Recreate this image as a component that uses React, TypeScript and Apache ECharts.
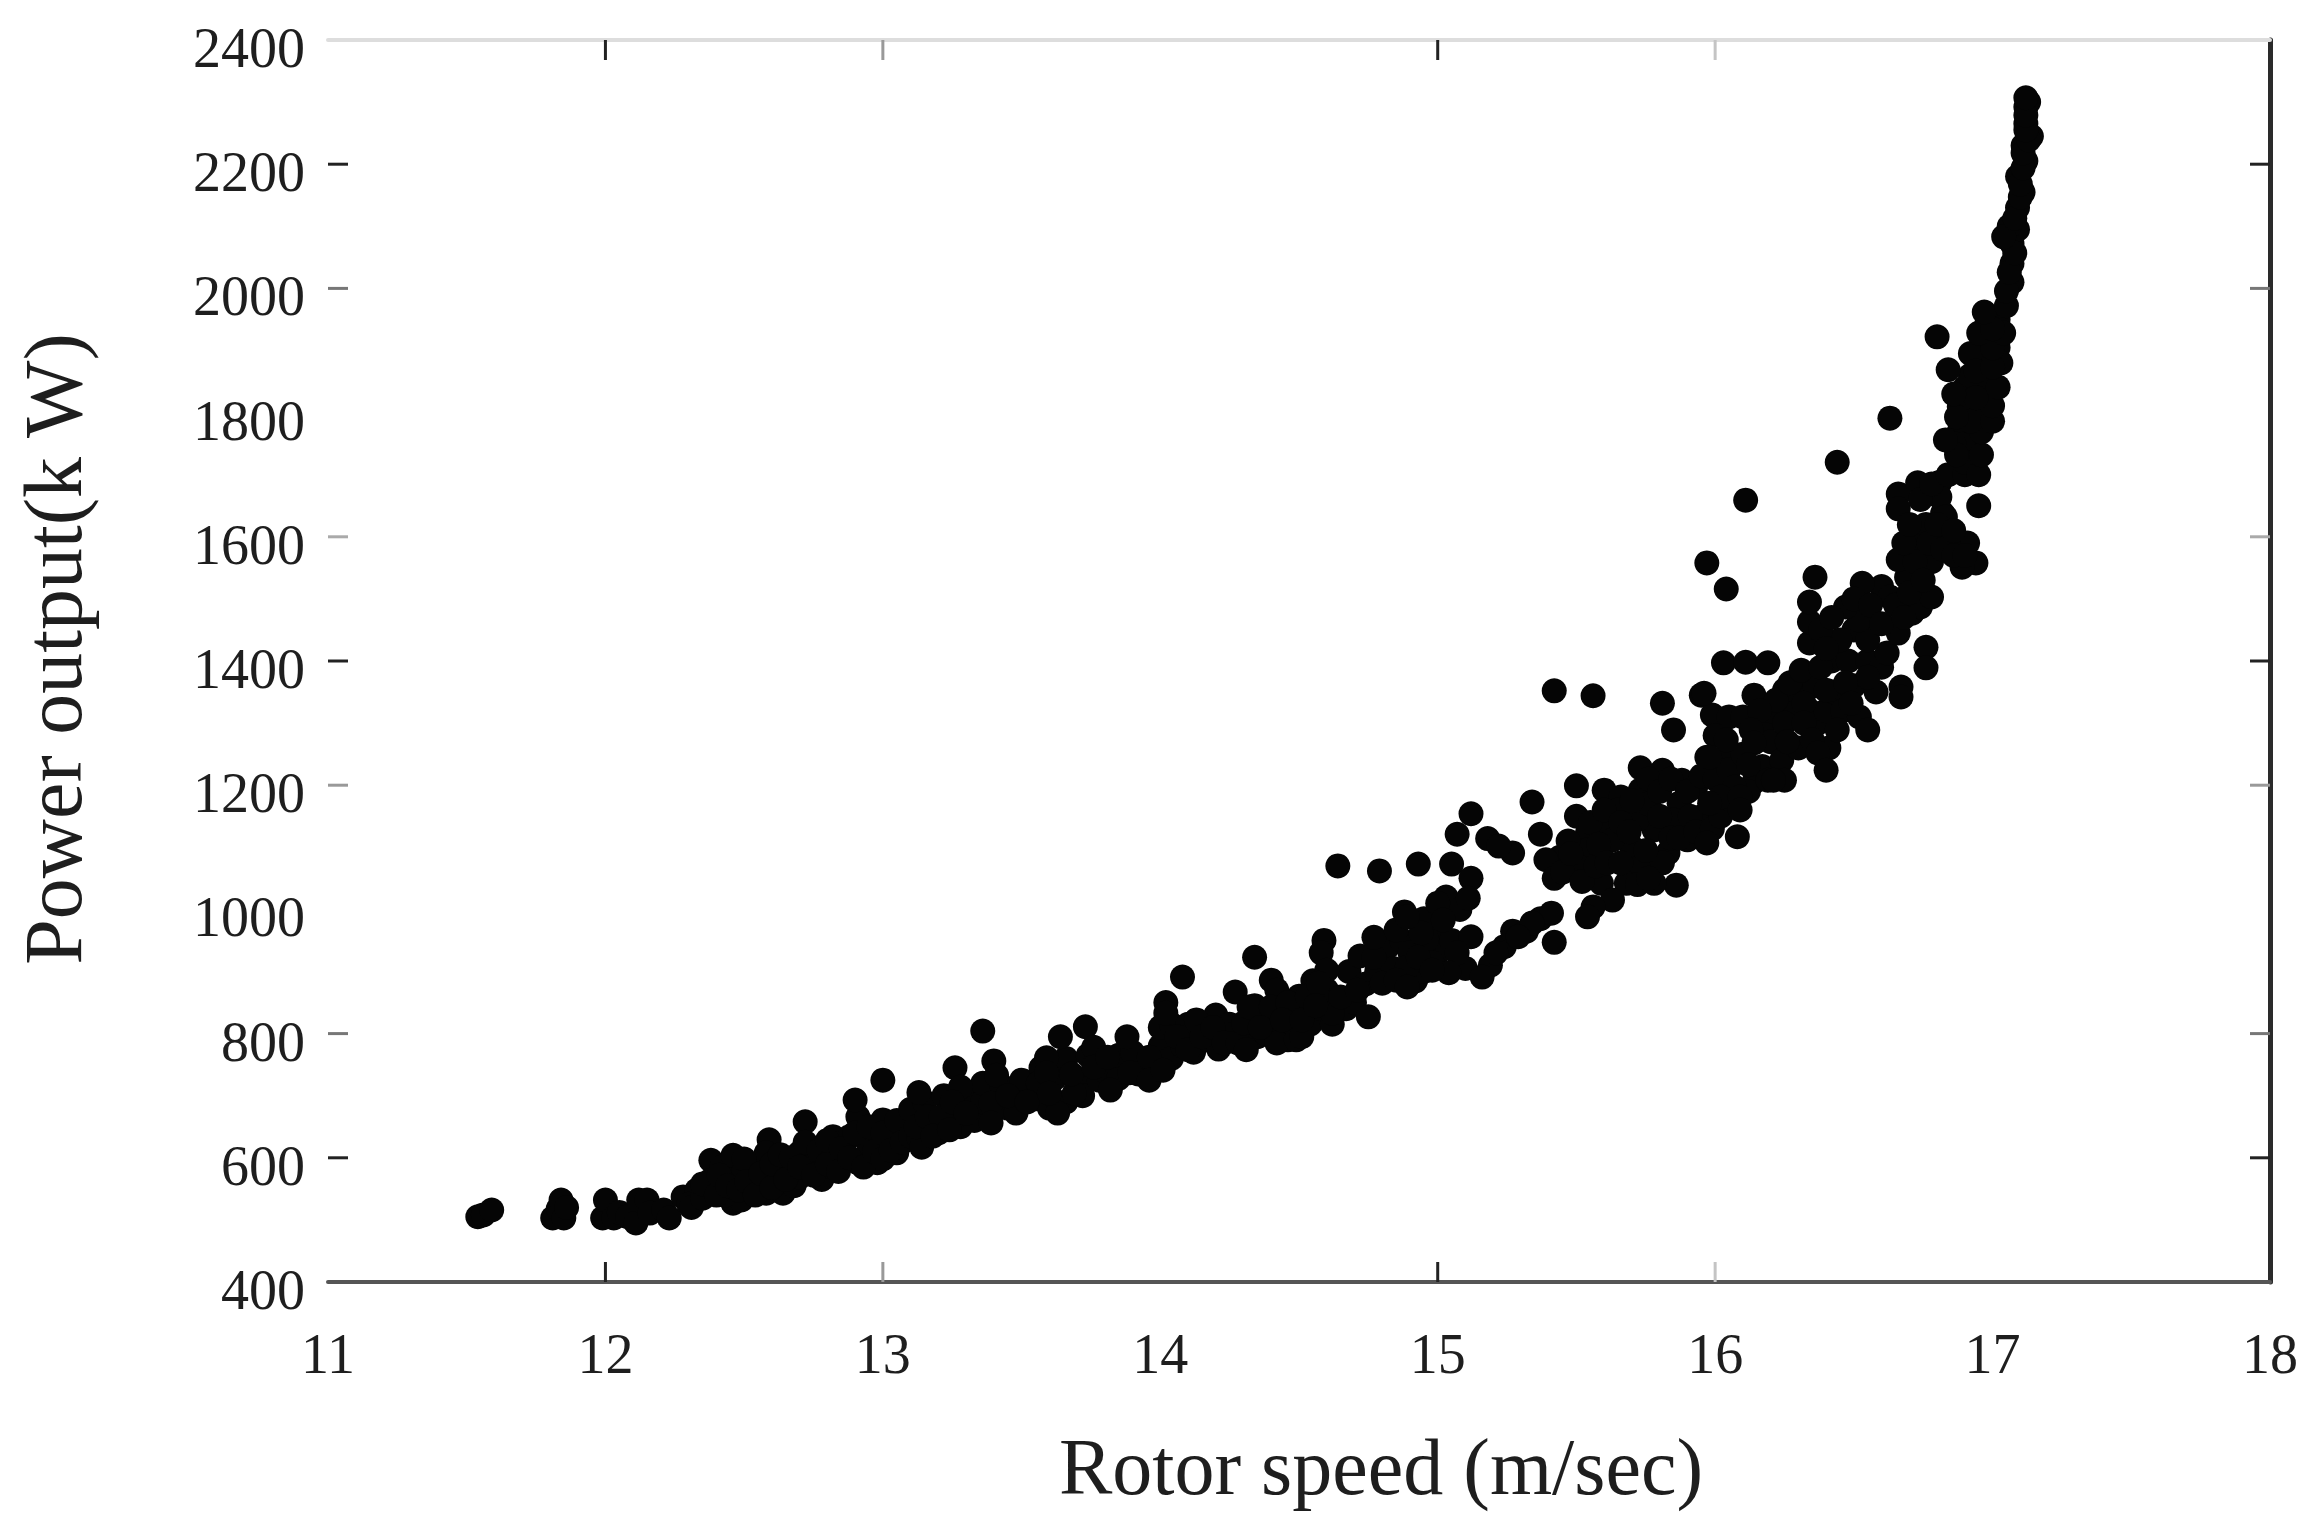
import React, { useEffect, useRef } from "react";
import * as echarts from "echarts";

const xLabels = [11, 12, 13, 14, 15, 16, 17, 18];
const yLabels = [400, 600, 800, 1000, 1200, 1400, 1600, 1800, 2000, 2200, 2400];
const xTitle = "Rotor speed (m/sec)";
const yTitle = "Power output(k W)";

const xTicks: [number, string][] = [[12, "#222222"], [13, "#999999"], [15, "#222222"], [16, "#c4c4c4"]];
const yTicks: [number, string][] = [[2200, "#222222"], [2000, "#777777"], [1600, "#aaaaaa"], [1400, "#222222"], [1200, "#999999"], [800, "#777777"], [600, "#222222"]];

const lowEnd: [number, number][] = [
  [11.54, 505], [11.56, 508], [11.59, 516], [11.81, 503], [11.83, 518], [11.84, 532], [11.85, 503], [11.86, 520],
  [11.99, 503], [12.0, 532], [12.03, 503], [12.05, 512], [12.08, 505], [12.11, 495], [12.12, 532], [12.15, 532], [12.16, 511],
  [12.21, 516], [12.23, 503], [12.28, 537], [12.33, 548], [12.3, 525], [12.38, 596], [12.38, 564], [12.42, 585],
  [12.46, 604], [12.46, 527], [12.49, 532], [12.43, 540], [12.46, 565], [12.5, 580], [12.53, 560], [12.55, 585],
  [12.59, 629], [12.58, 608], [12.58, 543], [12.64, 543], [12.62, 570], [12.66, 590], [12.68, 555], [12.72, 658],
  [12.7, 608], [12.7, 569], [12.76, 608], [12.74, 585], [12.78, 565], [12.82, 634], [12.82, 585], [12.86, 610], [12.88, 634],
  [12.91, 666], [12.91, 592], [12.95, 620], [12.98, 592], [13.0, 725], [13.0, 661], [13.02, 630], [13.05, 608], [13.09, 640],
];

const lowEndFill: [number, number][] = [
  [12.31, 520], [12.35, 535], [12.35, 558], [12.4, 540], [12.41, 572], [12.44, 555], [12.48, 548], [12.5, 598], [12.51, 562],
  [12.54, 540], [12.56, 575], [12.6, 552], [12.6, 590], [12.63, 605], [12.65, 565], [12.67, 600], [12.7, 585], [12.72, 625],
  [12.75, 572], [12.77, 612], [12.8, 590], [12.8, 628], [12.84, 578], [12.85, 615], [12.88, 600], [12.9, 640], [12.93, 585],
  [12.95, 650], [12.97, 610], [13.0, 598], [13.0, 640], [13.03, 612], [13.05, 660], [13.07, 625], [13.1, 635], [13.1, 678],
  [13.13, 632], [13.15, 690], [13.18, 650], [13.2, 640], [13.22, 700], [13.25, 665], [13.28, 650], [13.28, 680], [13.32, 705],
  [13.33, 660], [13.36, 690], [13.36, 720], [13.4, 678], [13.43, 715], [13.45, 680], [13.5, 725], [13.5, 688], [13.55, 695],
  [13.57, 745], [13.6, 680], [13.62, 728], [13.66, 690], [13.66, 760], [13.7, 720], [13.72, 700], [13.74, 765], [13.78, 725],
  [13.8, 740], [13.85, 728], [13.85, 765], [13.9, 770], [13.92, 735], [13.98, 745], [14.0, 780], [14.0, 810], [14.04, 760],
  [14.04, 815], [14.08, 780], [14.1, 815], [14.12, 770], [14.17, 790], [14.2, 830], [14.21, 775], [14.25, 815], [14.27, 800],
  [14.3, 790], [14.34, 845], [14.35, 795], [14.38, 830], [14.38, 800], [14.42, 810], [14.46, 790], [14.46, 830], [14.5, 860],
  [14.48, 810], [14.54, 815], [14.55, 885], [14.58, 840], [14.6, 870], [14.62, 815], [14.67, 840], [14.68, 900], [14.7, 850],
  [14.72, 925], [14.74, 880], [14.78, 900], [14.82, 940], [14.84, 905], [14.87, 950], [14.9, 930], [14.92, 885], [14.95, 985],
  [14.95, 900], [15.0, 960], [15.0, 930], [15.03, 1020], [15.05, 950], [15.08, 1000], [15.1, 905], [15.19, 910], [15.24, 940],
  [15.27, 965], [15.32, 965], [15.37, 985],
];

const edgeSpikes: [number, number][] = [
  [12.9, 693], [13.13, 705], [13.26, 745], [13.4, 756], [13.59, 761], [14.02, 850], [14.59, 950], [14.88, 996],
];

const lowerBand: [number, number][] = [
  [13.14, 617], [13.12, 650], [13.16, 666], [13.21, 666], [13.18, 635], [13.24, 645], [13.28, 714], [13.25, 690], [13.3, 672], [13.36, 804],
  [13.39, 688], [13.39, 656], [13.41, 733], [13.48, 672], [13.45, 700], [13.56, 720], [13.52, 690], [13.59, 737], [13.63, 672],
  [13.6, 704], [13.64, 795], [13.69, 704], [13.73, 811], [13.68, 735], [13.76, 778], [13.76, 746], [13.82, 709], [13.81, 762],
  [13.88, 795], [13.89, 737], [13.96, 762], [13.96, 725], [14.01, 741], [14.02, 833], [14.06, 795], [14.08, 891], [14.1, 774],
  [14.13, 822], [14.15, 795], [14.19, 810], [14.23, 785], [14.27, 867], [14.28, 785], [14.31, 774], [14.3, 817], [14.32, 843],
  [14.34, 923], [14.4, 886], [14.42, 870], [14.4, 843], [14.42, 785], [14.36, 810], [14.49, 790], [14.46, 850], [14.51, 795], [14.44, 822],
  [14.51, 822], [14.53, 860], [14.58, 930], [14.6, 902], [14.57, 881], [14.62, 833], [14.56, 845], [14.65, 859], [14.64, 1070],
  [14.71, 870], [14.75, 827], [14.8, 881], [14.79, 1062], [14.77, 923], [14.77, 955], [14.85, 967], [14.89, 907], [14.96, 951],
  [14.98, 914], [14.85, 886], [14.93, 1073],
];

const midBand: [number, number][] = [
  [15.05, 1073], [15.12, 1050], [15.11, 1018], [15.0, 1010], [15.02, 983], [15.12, 956], [14.94, 962], [15.07, 930], [14.93, 923],
  [15.04, 898], [14.89, 875], [14.98, 902], [14.89, 988], [15.42, 1352], [15.56, 1344], [15.81, 1332], [15.95, 1345], [15.99, 1313],
  [15.85, 1289], [15.97, 1245], [15.73, 1228], [15.81, 1224], [15.88, 1208], [15.93, 1197], [15.95, 1149], [15.87, 1171], [15.73, 1192],
  [15.5, 1199], [15.6, 1192], [15.66, 1181], [15.34, 1173], [15.37, 1121], [15.12, 1154], [15.07, 1121], [15.18, 1114], [15.27, 1091],
  [15.22, 1102], [15.59, 1133], [15.54, 1123], [15.65, 1160], [15.78, 1128], [15.85, 1144], [15.9, 1112], [15.83, 1091], [15.7, 1100],
  [15.63, 1112], [15.54, 1096], [15.44, 1084], [15.39, 1080], [15.42, 1050], [15.51, 1068], [15.73, 1068], [15.81, 1075], [15.86, 1039],
  [15.78, 1042], [15.68, 1042], [15.59, 1042], [15.63, 1015], [15.56, 1004], [15.54, 988], [15.41, 994], [15.42, 947], [15.34, 978],
  [15.29, 956], [15.21, 930], [15.16, 891], [15.72, 1145], [15.76, 1170], [15.5, 1150], [15.47, 1110],
];

const midFill: [number, number][] = [
  [15.45, 1060], [15.48, 1090], [15.52, 1045], [15.55, 1140], [15.57, 1070], [15.58, 1105], [15.6, 1160], [15.61, 1075], [15.66, 1140],
  [15.66, 1075], [15.69, 1125], [15.7, 1175], [15.72, 1040], [15.75, 1095], [15.76, 1210], [15.76, 1050], [15.8, 1150], [15.8, 1190],
  [15.84, 1115], [15.84, 1210], [15.87, 1115], [15.9, 1190], [15.91, 1150], [15.93, 1125], [15.95, 1215], [16.0, 1210], [15.99, 1130],
  [16.02, 1150], [16.03, 1240], [16.05, 1310], [16.0, 1280], [16.05, 1225], [16.1, 1310], [16.1, 1250], [16.17, 1290], [16.2, 1270],
  [16.2, 1320], [16.17, 1230], [16.14, 1205], [16.12, 1190], [16.24, 1240], [16.28, 1320], [16.3, 1260], [16.3, 1350], [16.25, 1300],
  [16.34, 1320], [16.36, 1360], [16.37, 1300], [16.4, 1320], [16.41, 1260], [16.42, 1400], [16.43, 1350], [16.46, 1320], [16.48, 1400],
  [16.5, 1360], [16.5, 1450], [16.52, 1310], [16.55, 1400], [16.58, 1350], [16.58, 1460], [16.6, 1390], [16.6, 1520],
];

const upperBand: [number, number][] = [
  [16.03, 1397], [16.11, 1398], [16.19, 1397], [16.14, 1345], [16.25, 1353], [16.22, 1337], [16.16, 1320], [16.13, 1289], [16.04, 1273],
  [16.14, 1268], [16.26, 1270], [16.12, 1233], [16.19, 1208], [16.25, 1208], [16.07, 1197], [16.07, 1171], [16.08, 1117], [15.97, 1107],
  [16.02, 1181], [16.09, 1181], [16.09, 1160], [15.98, 1171], [15.98, 1245], [15.96, 1348], [16.21, 1208], [16.27, 1365], [16.31, 1385],
  [16.32, 1332], [16.32, 1300], [16.35, 1273], [16.37, 1252], [16.4, 1224], [16.38, 1390], [16.4, 1353], [16.44, 1289], [16.55, 1289],
  [16.55, 1374], [16.47, 1365], [16.49, 1332], [16.62, 1413], [16.67, 1358], [16.67, 1342], [16.76, 1422], [16.76, 1389], [16.66, 1445],
  [16.55, 1434], [16.45, 1434], [16.34, 1429], [16.34, 1463], [16.34, 1495], [16.36, 1535], [16.52, 1466], [16.47, 1487], [16.53, 1525],
  [16.63, 1503], [16.71, 1477], [16.74, 1487], [16.78, 1503], [16.69, 1535], [16.66, 1563], [16.94, 1558], [16.89, 1551], [16.91, 1590],
  [16.84, 1595], [16.73, 1590], [16.78, 1560], [16.82, 1638], [16.66, 1669], [16.66, 1645], [16.81, 1688], [16.81, 1664], [16.83, 1632],
  [16.95, 1650], [16.73, 1687], [15.97, 1558], [16.04, 1516], [16.11, 1659], [16.44, 1720], [16.63, 1791],
];

const upperFill: [number, number][] = [
  [16.38, 1450], [16.4, 1420], [16.42, 1470], [16.5, 1500], [16.56, 1490], [16.6, 1460], [16.65, 1490], [16.68, 1470], [16.7, 1510],
  [16.72, 1560], [16.75, 1530], [16.76, 1620], [16.68, 1590], [16.7, 1620], [16.77, 1590], [16.8, 1620], [16.82, 1580], [16.86, 1610],
  [16.86, 1570], [16.9, 1570], [16.74, 1660], [16.78, 1685], [16.84, 1700], [16.88, 1745], [16.9, 1700], [16.88, 1770], [16.92, 1750],
  [16.9, 1720], [16.86, 1750], [16.9, 1800], [16.97, 1800], [16.96, 1840], [16.9, 1840], [16.88, 1810], [16.92, 1860], [16.98, 1890],
  [16.95, 1900], [16.92, 1895], [16.98, 1945], [17.02, 1950], [17.02, 1905], [17.03, 1880], [17.07, 2010], [17.07, 2040], [17.07, 2072],
  [17.09, 2095], [17.06, 2100], [17.09, 2130], [17.11, 2155], [17.09, 2180], [17.12, 2205], [17.11, 2230], [17.14, 2245], [17.12, 2265],
  [17.12, 2292], [17.13, 2300],
];

const topStem: [number, number][] = [
  [16.95, 1700], [16.96, 1732], [16.87, 1732], [16.83, 1756], [16.96, 1769], [16.92, 1786], [17.0, 1786], [16.87, 1793], [17.0, 1811],
  [16.94, 1824], [16.86, 1830], [17.02, 1841], [16.94, 1867], [17.0, 1873], [16.84, 1869], [17.0, 1904], [16.8, 1922], [17.04, 1928],
  [16.95, 1928], [17.0, 1935], [16.97, 1962], [17.05, 1972], [17.05, 1996], [17.06, 2026], [17.08, 2057], [17.04, 2083], [17.08, 2113],
  [17.1, 2147], [17.1, 2168], [17.11, 2194], [17.11, 2218], [17.13, 2239], [17.12, 2255], [17.12, 2279], [17.12, 2307],
];

const points = [...lowEnd, ...lowEndFill, ...edgeSpikes, ...lowerBand, ...midBand, ...midFill, ...upperBand, ...upperFill, ...topStem];
const FONT = "Liberation Serif";
const TEXT = "#1e1e1e";

const tickSeries = (data: [number, string][], isX: boolean) => ({
  type: "custom",
  silent: true,
  clip: false,
  coordinateSystem: "cartesian2d",
  data: data.map(([v, c]) => ({ value: isX ? [v, 400] : [11, v], color: c })),
  encode: { x: 0, y: 1 },
  renderItem: (params: any, api: any) => {
    const item = data[params.dataIndex];
    const len = 20;
    const style = { stroke: item[1], lineWidth: 3 };
    if (isX) {
      const lo = api.coord([item[0], 400]);
      const hi = api.coord([item[0], 2400]);
      return {
        type: "group",
        children: [
          { type: "line", shape: { x1: lo[0], y1: lo[1], x2: lo[0], y2: lo[1] - len }, style },
          { type: "line", shape: { x1: hi[0], y1: hi[1], x2: hi[0], y2: hi[1] + len }, style },
        ],
      };
    }
    const lo = api.coord([11, item[0]]);
    const hi = api.coord([18, item[0]]);
    return {
      type: "group",
      children: [
        { type: "line", shape: { x1: lo[0], y1: lo[1], x2: lo[0] + len, y2: lo[1] }, style },
        { type: "line", shape: { x1: hi[0], y1: hi[1], x2: hi[0] - len, y2: hi[1] }, style },
      ],
    };
  },
});

export default function App() {
  const ref = useRef<HTMLDivElement>(null);
  useEffect(() => {
    const chart = echarts.init(ref.current!, undefined, { renderer: "svg" });
    chart.setOption({
      animation: false,
      backgroundColor: "#ffffff",
      grid: { left: 328, right: 40, top: 40, bottom: 245, outerBoundsMode: "none" },
      xAxis: [
        {
          type: "value", min: xLabels[0], max: xLabels[xLabels.length - 1], interval: 1, position: "bottom",
          name: xTitle, nameLocation: "middle", nameGap: 145,
          nameTextStyle: { fontFamily: FONT, fontSize: 80, color: TEXT, padding: [0, 0, 0, 164] },
          axisLine: { show: true, onZero: false, lineStyle: { color: "#555555", width: 4 } },
          axisTick: { show: false }, splitLine: { show: false },
          axisLabel: { margin: 44, fontFamily: FONT, fontSize: 56, color: TEXT, formatter: (v: number) => String(v) },
        },
        {
          type: "value", min: xLabels[0], max: xLabels[xLabels.length - 1], interval: 1, position: "top",
          axisLine: { show: true, onZero: false, lineStyle: { color: "#dddddd", width: 4 } },
          axisTick: { show: false }, axisLabel: { show: false }, splitLine: { show: false },
        },
      ],
      yAxis: [
        {
          type: "value", min: yLabels[0], max: yLabels[yLabels.length - 1], interval: 200, position: "left",
          name: yTitle, nameLocation: "middle", nameGap: 234,
          nameTextStyle: { fontFamily: FONT, fontSize: 82, color: TEXT, padding: [0, 0, 0, 24] },
          axisLine: { show: false }, axisTick: { show: false }, splitLine: { show: false },
          axisLabel: {
            margin: 23, fontFamily: FONT, fontSize: 56, color: TEXT,
            formatter: (v: number) => `{a|${v}}`,
            rich: { a: { fontFamily: FONT, fontSize: 56, color: TEXT, padding: [16, 0, 0, 0] } },
          },
        },
        {
          type: "value", min: yLabels[0], max: yLabels[yLabels.length - 1], interval: 200, position: "right",
          axisLine: { show: true, onZero: false, lineStyle: { color: "#2a2a2a", width: 5 } },
          axisTick: { show: false }, axisLabel: { show: false }, splitLine: { show: false },
        },
      ],
      series: [
        tickSeries(xTicks, true),
        tickSeries(yTicks, false),
        {
          type: "scatter", data: points, symbol: "circle", symbolSize: 25, clip: false,
          itemStyle: { color: "#050505", opacity: 1 },
        },
      ],
    });
    return () => chart.dispose();
  }, []);
  return <div ref={ref} style={{ position: "absolute", left: 0, top: 0, width: 2310, height: 1527 }} />;
}
